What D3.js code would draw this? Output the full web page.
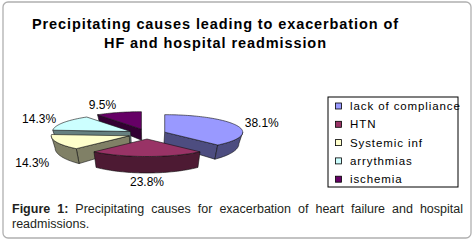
<!DOCTYPE html>
<html lang="en">
<head>
<meta charset="UTF-8">
<title>Precipitating causes</title>
<script src="https://cdn.jsdelivr.net/npm/d3@7/dist/d3.min.js"></script>
<style>
  body { margin: 0; background: #fff; }
  text { font-family: Arial, "Liberation Sans", sans-serif; }
</style>
</head>
<body>
<script>
// data
var categories = ["lack of compliance", "HTN", "Systemic inf", "arrythmias", "ischemia"];
var values = [38.1, 23.8, 14.3, 14.3, 9.5];
var topColors = ["#9999ff", "#993366", "#ffffcc", "#ccffff", "#660066"];
var sideColors = ["#4d4d80", "#4d1a33", "#808066", "#668080", "#330033"];
var titleLines = ["Precipitating causes leading to exacerbation of", "HF and hospital readmission"];
var captionBold = "Figure 1:";
var captionLine1 = " Precipitating causes for exacerbation of heart failure and hospital";
var captionLine2 = "readmissions.";

var w = 476, h = 246;
var svg = d3.select("body").append("svg").attr("width", w).attr("height", h);

// frame
svg.append("rect")
  .attr("x", 3).attr("y", 2).attr("width", 468).attr("height", 236)
  .attr("rx", 5).attr("fill", "none")
  .attr("stroke", "#b0b0b0").attr("stroke-width", 1.3);

// title
svg.selectAll("text.title")
  .data(titleLines)
  .enter().append("text")
  .attr("class", "title")
  .attr("x", 215)
  .attr("y", function(d, i) { return 29 + i * 18.5; })
  .attr("text-anchor", "middle")
  .attr("font-size", "14.5px")
  .attr("font-weight", "bold")
  .attr("textLength", function(d, i) { return i == 0 ? 366 : 222; })
  .attr("lengthAdjust", "spacing")
  .text(function(d) { return d; });

// pie geometry
var cx = 147, cy = 134, rx = 78, ry = 17.5;
var ex = 19, ey = 5;   // explode offset

var pie = d3.pie().sort(null).startAngle(0).endAngle(2 * Math.PI);
var arcs = pie(values);

function offset(d) {
  var m = (d.startAngle + d.endAngle) / 2;
  return [ex * Math.sin(m), -ey * Math.cos(m)];
}
function rim(a, t, o) {
  return [cx + o[0] + rx * t * Math.sin(a), cy + o[1] - ry * t * Math.cos(a)];
}
// bottom face, slight perspective
function down(p) {
  return [cx + (p[0] - cx) * 0.96, p[1] + 12 + (p[1] - cy) * 0.2];
}
function samples(a0, a1, o) {
  var pts = [];
  var n = Math.max(2, Math.ceil((a1 - a0) / 0.03));
  for (var k = 0; k <= n; k++) pts.push(rim(a0 + (a1 - a0) * k / n, 1, o));
  return pts;
}
var line = d3.line().curve(d3.curveLinearClosed);

// back to front
var order = arcs.map(function(d, i) { return i; }).sort(function(a, b) {
  var ma = (arcs[a].startAngle + arcs[a].endAngle) / 2;
  var mb = (arcs[b].startAngle + arcs[b].endAngle) / 2;
  return Math.cos(mb) - Math.cos(ma);
});

var pieG = svg.append("g");
order.forEach(function(i) {
  var d = arcs[i];
  var o = offset(d);
  var c = rim(0, 0, o);
  var g = pieG.append("g");

  // radial walls facing the viewer
  [d.startAngle, d.endAngle].forEach(function(a, k) {
    var vis = k == 0 ? Math.sin(a) < -0.01 : Math.sin(a) > 0.01;
    if (!vis) return;
    var r = rim(a, 1, o);
    g.append("path")
      .attr("d", line([c, r, down(r), down(c)]))
      .attr("fill", sideColors[i]).attr("stroke", "#111").attr("stroke-width", 0.6);
  });

  // outer wall (front half)
  var a0 = Math.max(d.startAngle, Math.PI / 2);
  var a1 = Math.min(d.endAngle, 3 * Math.PI / 2);
  if (a1 > a0) {
    var topPts = samples(a0, a1, o);
    var botPts = topPts.map(down).reverse();
    g.append("path")
      .attr("d", line(topPts.concat(botPts)))
      .attr("fill", sideColors[i]).attr("stroke", "#111").attr("stroke-width", 0.6);
  }

  // top face
  g.append("path")
    .attr("d", line([c].concat(samples(d.startAngle, d.endAngle, o))))
    .attr("fill", topColors[i]).attr("stroke", "#111").attr("stroke-width", 0.6);
});

// value labels
svg.selectAll("text.lbl")
  .data(arcs)
  .enter().append("text")
  .attr("class", "lbl")
  .attr("x", function(d) {
    var m = (d.startAngle + d.endAngle) / 2;
    return cx + (ex + rx + 8) * Math.sin(m);
  })
  .attr("y", function(d) {
    var m = (d.startAngle + d.endAngle) / 2;
    var y = cy - (ry + ey + 7.5) * Math.cos(m);
    if (Math.cos(m) < 0) y += 18;
    return y + 4;
  })
  .attr("text-anchor", function(d) {
    var s = Math.sin((d.startAngle + d.endAngle) / 2);
    return s > 0.1 ? "start" : (s < -0.1 ? "end" : "middle");
  })
  .attr("font-size", "12px")
  .attr("fill", "#000")
  .text(function(d) { return d.value.toFixed(1) + "%"; });

// legend
var legend = svg.append("g").attr("transform", "translate(328,97)");
legend.append("rect")
  .attr("width", 130).attr("height", 90)
  .attr("fill", "#fff").attr("stroke", "#000").attr("stroke-width", 1);
var items = legend.selectAll("g.item")
  .data(categories)
  .enter().append("g")
  .attr("class", "item")
  .attr("transform", function(d, i) { return "translate(7," + (9 + i * 18.3) + ")"; });
items.append("rect")
  .attr("x", 0.5).attr("y", -3).attr("width", 6).attr("height", 6)
  .attr("fill", function(d, i) { return topColors[i]; })
  .attr("stroke", "#000").attr("stroke-width", 0.8);
items.append("text")
  .attr("x", 15).attr("y", 4)
  .attr("font-size", "11.5px")
  .attr("letter-spacing", "0.9px")
  .text(function(d) { return d; });

// caption
var cap = svg.append("text")
  .attr("x", 12).attr("y", 212.5)
  .attr("font-size", "12.5px").attr("fill", "#231f20");
cap.append("tspan").attr("font-weight", "bold").text(captionBold);
var rest = cap.append("tspan").text(captionLine1);
var natural = cap.node().getComputedTextLength();
var gaps = (captionBold + captionLine1).split(" ").length - 1;
cap.attr("word-spacing", ((451 - natural) / gaps) + "px");

svg.append("text")
  .attr("x", 12).attr("y", 228)
  .attr("font-size", "12.5px").attr("fill", "#231f20")
  .text(captionLine2);
</script>
</body>
</html>
